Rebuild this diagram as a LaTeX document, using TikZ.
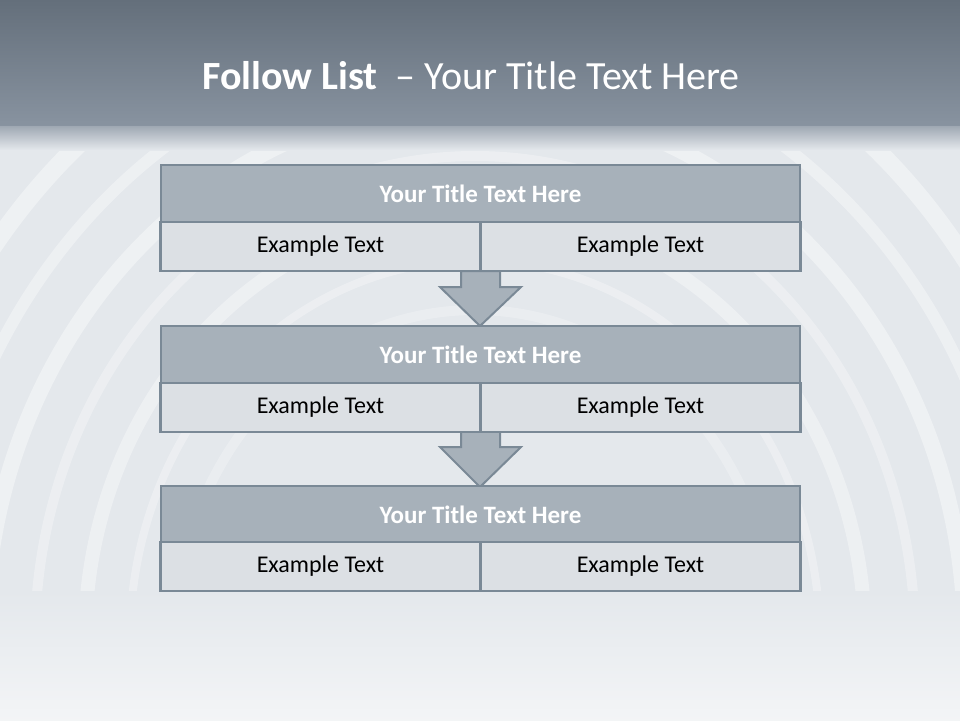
\documentclass[tikz,border=0pt]{standalone}
\usepackage{fontspec}
\setmainfont{Carlito}
\usetikzlibrary{calc}
\begin{document}
\begin{tikzpicture}[x=1pt,y=-1pt,
  titlebox/.style={draw=bordc,line width=2.2pt,fill=titlec,minimum width=639pt,minimum height=57pt,inner sep=0pt,text=white,font=\bfseries\fontsize{25}{30}\selectfont},
  itembox/.style={draw=bordc,line width=2.2pt,fill=itemc,minimum width=320pt,minimum height=49pt,inner sep=0pt,text=black,font=\fontsize{24}{29}\selectfont},
  downarrow/.style={draw=bordc,line width=2pt,fill=titlec,line join=miter}]
\definecolor{bordc}{HTML}{7A8996}
\definecolor{titlec}{HTML}{A7B1BA}
\definecolor{itemc}{HTML}{DCE0E4}
\definecolor{bandtop}{HTML}{646F7B}
\definecolor{bandbot}{HTML}{8893A0}
\definecolor{bgc}{HTML}{E4E8EC}
\useasboundingbox (0,0) rectangle (960,720);
% background
\fill[bgc] (0,0) rectangle (960,720);
\shade[top color=bgc,bottom color=white!55!bgc] (0,590) rectangle (960,720);
\begin{scope}
\clip (0,128) rectangle (960,590);
\foreach \r/\w/\o in {300/10/0.25,345/8/0.3,390/14/0.35,440/10/0.3,490/16/0.4,545/12/0.35,600/18/0.4,665/14/0.35,735/20/0.3}{
  \draw[white,opacity=\o,line width=\w pt] (475,640) ellipse [x radius=\r, y radius=\r*1.1];
}
\end{scope}
\shade[top color=bandtop,bottom color=bandbot] (0,0) rectangle (960,126);
\shade[top color=bandbot!75!bgc,bottom color=bgc] (0,126) rectangle (960,150);
% title
\node[anchor=west,text=white,font=\fontsize{40}{48}\selectfont,inner sep=0pt] (title) at (202,76) {\textbf{Follow List}\ \ – Your Title Text Here};
% arrows (drawn first, boxes overlay)
\coordinate (a1) at (480,271);
\coordinate (a2) at (480,431);
\coordinate (tip1) at (480,326);
\coordinate (tip2) at (480,487);
\foreach \a/\t in {a1/tip1,a2/tip2}{
  \draw[downarrow] ($(\a)+(-19,0)$) -- ($(\a)+(-19,16)$) -- ($(\a)+(-40,16)$) -- (\t)
     -- ($(\a)+(41,16)$) -- ($(\a)+(20,16)$) -- ($(\a)+(20,0)$) -- cycle;
}
% boxes
\node[titlebox] (t1) at (480.5,193.5) {Your Title Text Here};
\node[itembox] (l1) at (320.5,246.5) {Example Text};
\node[itembox] (r1) at (640.5,246.5) {Example Text};
\node[titlebox] (t2) at (480.5,354.5) {Your Title Text Here};
\node[itembox] (l2) at (320.5,407.5) {Example Text};
\node[itembox] (r2) at (640.5,407.5) {Example Text};
\node[titlebox] (t3) at (480.5,514.5) {Your Title Text Here};
\node[itembox] (l3) at (320.5,566.5) {Example Text};
\node[itembox] (r3) at (640.5,566.5) {Example Text};
\end{tikzpicture}
\end{document}
